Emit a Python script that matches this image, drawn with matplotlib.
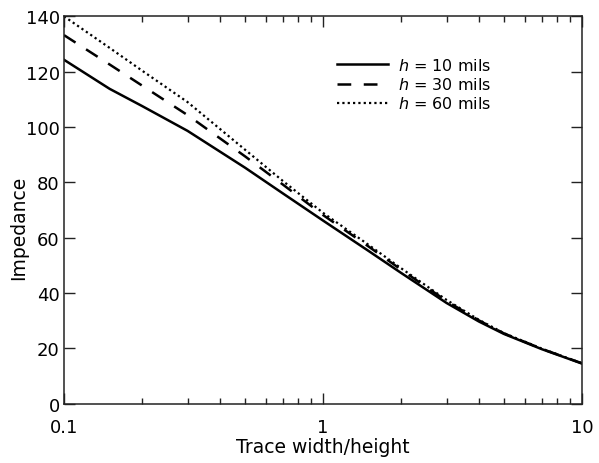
import matplotlib
matplotlib.use("Agg")
import matplotlib.pyplot as plt
from matplotlib.ticker import FixedLocator, NullFormatter

# trace width / height
ratio = [0.1, 0.15, 0.2, 0.3, 0.5, 0.7, 1, 1.5, 2, 3, 4, 5, 7, 10]

# impedance for each dielectric height
z_h10 = [124.3, 113.8, 107.6, 98.6, 85.3, 76.0, 66.2, 55.2, 47.3, 36.4, 29.7, 25.2, 19.7, 14.5]
z_h30 = [133.2, 122.6, 115.0, 104.3, 89.4, 79.2, 68.2, 56.8, 48.5, 37.1, 30.1, 25.4, 19.8, 14.6]
z_h60 = [140.0, 128.6, 120.4, 109.0, 91.8, 80.5, 69.0, 57.4, 49.0, 37.5, 30.3, 25.5, 19.9, 14.6]

labels = ["$h$ = 10 mils", "$h$ = 30 mils", "$h$ = 60 mils"]
x_ticks = [0.1, 1, 10]
x_tick_labels = ["0.1", "1", "10"]
y_ticks = [0, 20, 40, 60, 80, 100, 120, 140]

fig = plt.figure(figsize=(5.99, 4.64), dpi=100)
ax = fig.add_axes([0.1068, 0.1278, 0.8648, 0.8349])

ax.plot(ratio, z_h10, color="black", lw=1.8, label=labels[0])
ax.plot(ratio, z_h30, color="black", lw=1.8, linestyle=(0, (5.5, 5)), label=labels[1])
ax.plot(ratio, z_h60, color="black", lw=1.6, linestyle=(0, (1, 1.4)), label=labels[2])

ax.set_xscale("log")
ax.set_xlim(0.1, 10)
ax.set_ylim(0, 140)
ax.xaxis.set_major_locator(FixedLocator(x_ticks))
ax.set_xticklabels(x_tick_labels)
minors = [m * d for d in (0.1, 1) for m in range(2, 10)]
ax.xaxis.set_minor_locator(FixedLocator(minors))
ax.xaxis.set_minor_formatter(NullFormatter())
ax.set_yticks(y_ticks)

ax.tick_params(which="both", direction="in", top=True, right=True, width=1.0, color="#222222")
ax.tick_params(which="major", length=8, labelsize=13)
ax.tick_params(which="minor", length=4)
ax.tick_params(axis="x", which="major", pad=10)
ax.tick_params(axis="y", which="major", pad=3)

for s in ax.spines.values():
    s.set_linewidth(1.1)
    s.set_color("#222222")

ax.set_xlabel("Trace width/height", fontsize=13.5, labelpad=1)
ax.set_ylabel("Impedance", fontsize=13.5)
ax.yaxis.set_label_coords(-0.07, 0.457)

ax.legend(loc="upper left", bbox_to_anchor=(0.5264, 0.895), frameon=False,
          fontsize=11.5, handlelength=3.2, handletextpad=0.65, labelspacing=0.2,
          borderpad=0, borderaxespad=0)

fig.savefig("out.png", dpi=100)
